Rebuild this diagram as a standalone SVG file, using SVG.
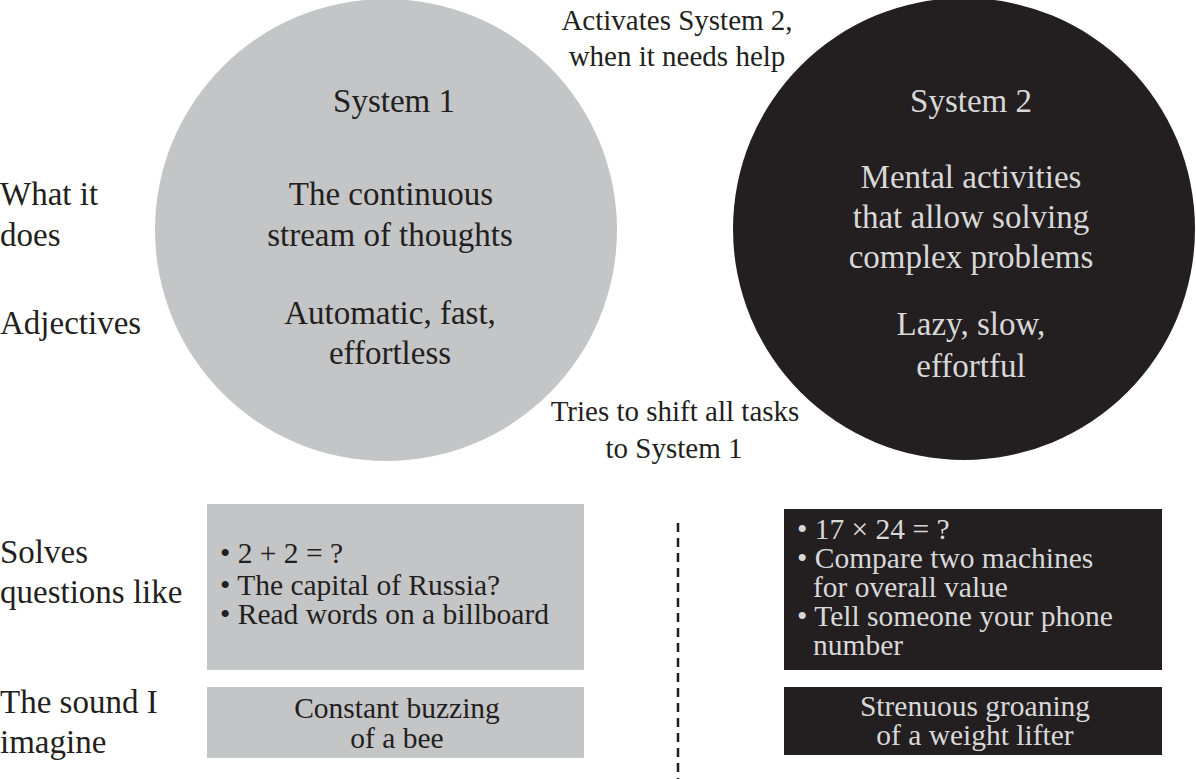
<svg xmlns="http://www.w3.org/2000/svg" width="1196" height="779" viewBox="0 0 1196 779" font-family="'Liberation Serif', 'DejaVu Serif', serif">
<style>
.dk{fill:#231f20;}
.lt{fill:#c4c5c7;}
.c{text-anchor:middle;}
.t33{font-size:33px;}
.t29{font-size:29px;}
.tb{font-size:29.5px;}
.tl{fill:#d8d8d8;}
</style>
<rect width="1196" height="779" fill="#ffffff"/>
<g id="system1">
<circle class="lt" cx="386" cy="230" r="231"/>
<text class="c t33 dk" x="394" y="112">System 1</text>
<text class="c t33 dk" x="391" y="205">The continuous</text>
<text class="c t33 dk" x="390" y="246">stream of thoughts</text>
<text class="c t33 dk" x="390" y="324">Automatic, fast,</text>
<text class="c t33 dk" x="390" y="364">effortless</text>
</g>
<g id="system2">
<circle class="dk" cx="964" cy="229" r="231"/>
<text class="c t33 tl" x="971" y="112">System 2</text>
<text class="c t33 tl" x="971" y="188">Mental activities</text>
<text class="c t33 tl" x="971" y="228">that allow solving</text>
<text class="c t33 tl" x="971" y="268">complex problems</text>
<text class="c t33 tl" x="971" y="335">Lazy, slow,</text>
<text class="c t33 tl" x="971" y="377">effortful</text>
</g>
<g id="labels">
<text class="t33 dk" x="0" y="205">What it</text>
<text class="t33 dk" x="0" y="246">does</text>
<text class="t33 dk" x="0" y="334">Adjectives</text>
<text class="t33 dk" x="0" y="563">Solves</text>
<text class="t33 dk" x="0" y="603">questions like</text>
<text class="t33 dk" x="0" y="713">The sound I</text>
<text class="t33 dk" x="0" y="753">imagine</text>
</g>
<g id="connectors">
<text class="c t29 dk" x="677" y="30">Activates System 2,</text>
<text class="c t29 dk" x="677" y="66">when it needs help</text>
<text class="c t29 dk" x="675" y="421">Tries to shift all tasks</text>
<text class="c t29 dk" x="674" y="458">to System 1</text>
<line x1="678" y1="523" x2="678" y2="779" stroke="#231f20" stroke-width="2.5" stroke-dasharray="9,6"/>
</g>
<g id="s1-questions">
<rect class="lt" x="207" y="504" width="377" height="166"/>
<text class="tb dk" x="220" y="563">• 2 + 2 = ?</text>
<text class="tb dk" x="220" y="595">• The capital of Russia?</text>
<text class="tb dk" x="220" y="624">• Read words on a billboard</text>
</g>
<g id="s1-sound">
<rect class="lt" x="207" y="687" width="377" height="71"/>
<text class="c tb dk" x="397" y="718">Constant buzzing</text>
<text class="c tb dk" x="397" y="748">of a bee</text>
</g>
<g id="s2-questions">
<rect class="dk" x="784" y="509" width="378" height="161"/>
<text class="tb tl" x="797" y="539">• 17 × 24 = ?</text>
<text class="tb tl" x="797" y="568">• Compare two machines</text>
<text class="tb tl" x="813" y="597">for overall value</text>
<text class="tb tl" x="797" y="626">• Tell someone your phone</text>
<text class="tb tl" x="813" y="655">number</text>
</g>
<g id="s2-sound">
<rect class="dk" x="784" y="687" width="378" height="68"/>
<text class="c tb tl" x="975" y="716">Strenuous groaning</text>
<text class="c tb tl" x="975" y="745">of a weight lifter</text>
</g>
</svg>
